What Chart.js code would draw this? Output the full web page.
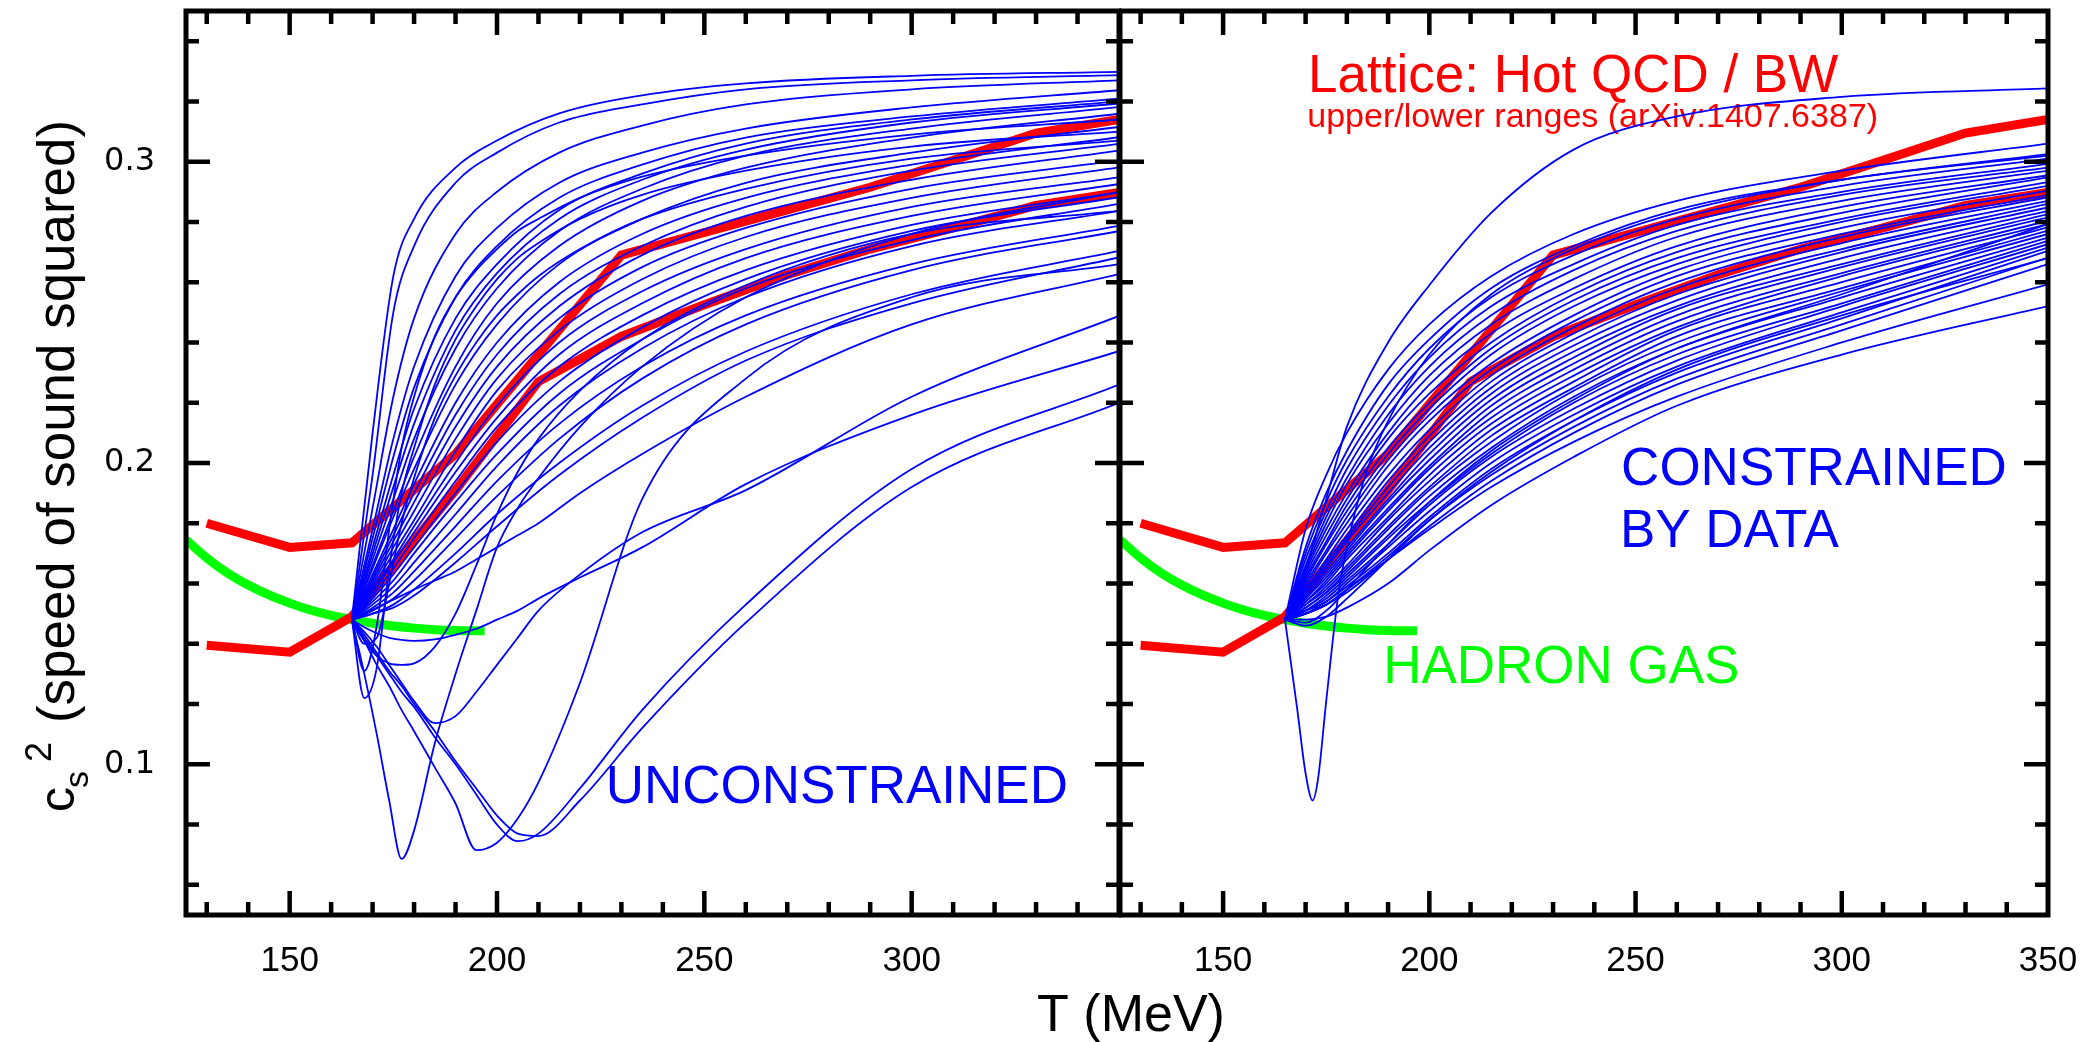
<!DOCTYPE html>
<html>
<head>
<meta charset="utf-8">
<script src="https://cdn.jsdelivr.net/npm/chart.js@4.4.0/dist/chart.umd.min.js"></script>
<style>
  html, body { margin: 0; padding: 0; background: #fff; }
  #wrap { position: relative; width: 2093px; height: 1042px; overflow: hidden; }
  canvas { position: absolute; top: 0; }
  #leftPanel { left: 0; }
  #rightPanel { left: 1119px; }
</style>
</head>
<body>
<div id="wrap">
  <canvas id="leftPanel" width="2093" height="1042"></canvas>
  <canvas id="rightPanel" width="974" height="1042"></canvas>
</div>
<script>
// temperature grids (MeV)
var riseT = [165, 170, 175, 180, 190, 200, 215, 235, 260, 300, 350];
var dipT = [165, 168, 171, 174, 177, 180, 185, 190, 195, 200, 205, 210, 220, 235, 260, 300, 350];
var spikeT = [165, 168, 170, 171.7, 173, 175, 178, 181, 185, 190, 200, 215, 235, 260, 300, 350];
var latticeT = [130, 150, 165, 190, 210, 230, 250, 270, 290, 310, 330, 350];
var hadronT = [125, 130, 135, 140, 145, 150, 155, 160, 165, 170, 175, 180, 185, 190, 197];

// lattice band (Hot QCD / BW) and hadron gas
var latticeUpper = [0.180, 0.172, 0.1735, 0.203, 0.236, 0.269, 0.2765, 0.284, 0.2915, 0.3005, 0.3095, 0.314];
var latticeLower = [0.1395, 0.1372, 0.149, 0.191, 0.227, 0.242, 0.2525, 0.2625, 0.271, 0.278, 0.2855, 0.2898];
var hadronGas = [0.1745, 0.1685, 0.1635, 0.1595, 0.1562, 0.1535, 0.1512, 0.1494, 0.148, 0.1468, 0.1459, 0.1452, 0.1447, 0.1444, 0.1443];

// left panel: unconstrained parameter sets
var unconstrainedRise = [
  [0.148, 0.210, 0.262, 0.281, 0.298, 0.307, 0.316, 0.322, 0.326, 0.3285, 0.3298],
  [0.148, 0.196, 0.250, 0.272, 0.293, 0.303, 0.313, 0.319, 0.324, 0.327, 0.3287],
  [0.148, 0.185, 0.222, 0.248, 0.276, 0.290, 0.303, 0.312, 0.319, 0.324, 0.327],
  [0.148, 0.178, 0.208, 0.232, 0.262, 0.278, 0.293, 0.303, 0.311, 0.318, 0.3237],
  [0.148, 0.175, 0.202, 0.225, 0.255, 0.272, 0.288, 0.299, 0.308, 0.315, 0.3209],
  [0.148, 0.172, 0.196, 0.218, 0.248, 0.266, 0.284, 0.296, 0.306, 0.314, 0.3200],
  [0.148, 0.170, 0.192, 0.213, 0.244, 0.263, 0.281, 0.294, 0.304, 0.313, 0.3193],
  [0.148, 0.168, 0.188, 0.208, 0.238, 0.258, 0.277, 0.291, 0.302, 0.311, 0.3181],
  [0.148, 0.166, 0.184, 0.202, 0.232, 0.253, 0.272, 0.287, 0.298, 0.308, 0.3159],
  [0.148, 0.165, 0.182, 0.198, 0.226, 0.246, 0.266, 0.281, 0.293, 0.303, 0.3115],
  [0.148, 0.163, 0.178, 0.193, 0.220, 0.240, 0.260, 0.276, 0.288, 0.299, 0.3081],
  [0.148, 0.162, 0.176, 0.190, 0.216, 0.236, 0.256, 0.272, 0.285, 0.297, 0.3059],
  [0.148, 0.161, 0.174, 0.187, 0.212, 0.232, 0.252, 0.269, 0.282, 0.294, 0.3037],
  [0.148, 0.160, 0.172, 0.184, 0.208, 0.228, 0.248, 0.265, 0.278, 0.291, 0.3004],
  [0.148, 0.159, 0.170, 0.181, 0.204, 0.224, 0.244, 0.261, 0.275, 0.288, 0.2981],
  [0.148, 0.158, 0.168, 0.179, 0.200, 0.219, 0.240, 0.257, 0.271, 0.285, 0.2948],
  [0.148, 0.157, 0.167, 0.177, 0.197, 0.215, 0.236, 0.253, 0.268, 0.282, 0.2926],
  [0.148, 0.156, 0.165, 0.175, 0.194, 0.212, 0.232, 0.249, 0.264, 0.279, 0.2898],
  [0.148, 0.155, 0.163, 0.172, 0.190, 0.207, 0.227, 0.245, 0.261, 0.277, 0.2882],
  [0.148, 0.154, 0.161, 0.170, 0.187, 0.203, 0.223, 0.241, 0.258, 0.274, 0.2860],
  [0.148, 0.153, 0.159, 0.167, 0.183, 0.199, 0.219, 0.238, 0.255, 0.272, 0.2837],
  [0.148, 0.152, 0.157, 0.164, 0.179, 0.194, 0.213, 0.232, 0.249, 0.266, 0.2787],
  [0.148, 0.151, 0.155, 0.161, 0.175, 0.189, 0.208, 0.228, 0.246, 0.264, 0.2770],
  [0.148, 0.150, 0.153, 0.158, 0.170, 0.183, 0.200, 0.219, 0.237, 0.256, 0.2704],
  [0.148, 0.150, 0.152, 0.156, 0.167, 0.179, 0.196, 0.215, 0.234, 0.253, 0.2682]
];
var unconstrainedDip = [
  [0.148, 0.130, 0.110, 0.088, 0.0686, 0.078, 0.107, 0.130, 0.151, 0.172, 0.185, 0.195, 0.212, 0.232, 0.255, 0.276, 0.290],
  [0.148, 0.141, 0.133, 0.126, 0.118, 0.111, 0.099, 0.087, 0.0715, 0.074, 0.082, 0.094, 0.127, 0.188, 0.228, 0.255, 0.266],
  [0.148, 0.142, 0.136, 0.130, 0.124, 0.119, 0.109, 0.100, 0.090, 0.080, 0.0745, 0.077, 0.092, 0.118, 0.153, 0.198, 0.226],
  [0.148, 0.143, 0.137, 0.131, 0.126, 0.120, 0.111, 0.101, 0.092, 0.083, 0.077, 0.0762, 0.088, 0.112, 0.147, 0.192, 0.220],
  [0.148, 0.144, 0.139, 0.133, 0.127, 0.121, 0.1137, 0.116, 0.124, 0.133, 0.142, 0.151, 0.163, 0.177, 0.191, 0.222, 0.2488],
  [0.148, 0.1455, 0.1435, 0.142, 0.1413, 0.141, 0.1415, 0.143, 0.145, 0.148, 0.151, 0.155, 0.162, 0.172, 0.193, 0.216, 0.2371],
  [0.148, 0.141, 0.136, 0.1335, 0.133, 0.1335, 0.139, 0.150, 0.166, 0.183, 0.197, 0.208, 0.224, 0.241, 0.259, 0.276, 0.2837],
  [0.148, 0.150, 0.152, 0.154, 0.156, 0.158, 0.161, 0.164, 0.168, 0.172, 0.176, 0.180, 0.190, 0.203, 0.222, 0.246, 0.2627],
  [0.148, 0.122, 0.132, 0.165, 0.190, 0.205, 0.226, 0.241, 0.252, 0.261, 0.268, 0.273, 0.281, 0.289, 0.297, 0.305, 0.310],
  [0.148, 0.131, 0.146, 0.178, 0.205, 0.222, 0.242, 0.255, 0.264, 0.271, 0.277, 0.281, 0.288, 0.295, 0.302, 0.309, 0.314],
  [0.148, 0.140, 0.142, 0.160, 0.180, 0.195, 0.215, 0.229, 0.240, 0.249, 0.256, 0.262, 0.271, 0.281, 0.291, 0.301, 0.307]
];

// right panel: constrained by data
var constrainedRise = [
  [0.148, 0.165, 0.188, 0.212, 0.240, 0.259, 0.283, 0.304, 0.315, 0.3215, 0.3243],
  [0.148, 0.178, 0.196, 0.210, 0.231, 0.246, 0.262, 0.276, 0.287, 0.297, 0.306],
  [0.148, 0.172, 0.190, 0.204, 0.226, 0.241, 0.258, 0.272, 0.284, 0.294, 0.3025],
  [0.148, 0.170, 0.187, 0.201, 0.222, 0.238, 0.255, 0.269, 0.281, 0.292, 0.301],
  [0.148, 0.168, 0.184, 0.198, 0.219, 0.235, 0.252, 0.266, 0.279, 0.290, 0.2993],
  [0.148, 0.166, 0.182, 0.195, 0.216, 0.232, 0.249, 0.264, 0.277, 0.289, 0.298],
  [0.148, 0.165, 0.180, 0.193, 0.213, 0.229, 0.246, 0.261, 0.275, 0.287, 0.297],
  [0.148, 0.164, 0.178, 0.190, 0.210, 0.226, 0.243, 0.258, 0.272, 0.285, 0.2955],
  [0.148, 0.163, 0.176, 0.188, 0.208, 0.223, 0.240, 0.256, 0.270, 0.283, 0.2948],
  [0.148, 0.162, 0.174, 0.186, 0.205, 0.220, 0.238, 0.254, 0.268, 0.281, 0.2932],
  [0.148, 0.161, 0.173, 0.184, 0.203, 0.218, 0.236, 0.252, 0.266, 0.280, 0.292],
  [0.148, 0.160, 0.171, 0.182, 0.201, 0.216, 0.233, 0.249, 0.264, 0.278, 0.2904],
  [0.148, 0.159, 0.170, 0.180, 0.199, 0.214, 0.231, 0.247, 0.262, 0.276, 0.289],
  [0.148, 0.158, 0.168, 0.178, 0.196, 0.211, 0.229, 0.245, 0.260, 0.275, 0.2882],
  [0.148, 0.157, 0.167, 0.176, 0.194, 0.209, 0.227, 0.243, 0.258, 0.273, 0.287],
  [0.148, 0.157, 0.166, 0.175, 0.192, 0.207, 0.225, 0.241, 0.256, 0.271, 0.286],
  [0.148, 0.156, 0.165, 0.174, 0.190, 0.205, 0.223, 0.239, 0.254, 0.270, 0.2848],
  [0.148, 0.156, 0.164, 0.172, 0.188, 0.203, 0.221, 0.237, 0.252, 0.268, 0.2837],
  [0.148, 0.155, 0.163, 0.171, 0.187, 0.201, 0.219, 0.235, 0.251, 0.266, 0.2826],
  [0.148, 0.155, 0.162, 0.170, 0.185, 0.199, 0.217, 0.233, 0.249, 0.265, 0.2815],
  [0.148, 0.154, 0.161, 0.169, 0.184, 0.198, 0.215, 0.231, 0.247, 0.263, 0.2804],
  [0.148, 0.154, 0.160, 0.168, 0.182, 0.196, 0.213, 0.229, 0.245, 0.262, 0.2793],
  [0.148, 0.153, 0.159, 0.166, 0.181, 0.194, 0.211, 0.227, 0.244, 0.260, 0.2782],
  [0.148, 0.153, 0.158, 0.165, 0.179, 0.192, 0.209, 0.225, 0.242, 0.258, 0.2771],
  [0.148, 0.152, 0.157, 0.164, 0.178, 0.191, 0.207, 0.224, 0.240, 0.257, 0.276],
  [0.148, 0.152, 0.157, 0.163, 0.176, 0.189, 0.205, 0.222, 0.238, 0.255, 0.2748],
  [0.148, 0.151, 0.156, 0.162, 0.175, 0.187, 0.203, 0.220, 0.236, 0.253, 0.2737],
  [0.148, 0.151, 0.155, 0.161, 0.173, 0.186, 0.202, 0.218, 0.234, 0.252, 0.2726],
  [0.148, 0.151, 0.154, 0.160, 0.172, 0.184, 0.200, 0.216, 0.232, 0.250, 0.2715],
  [0.148, 0.150, 0.154, 0.159, 0.170, 0.182, 0.198, 0.214, 0.230, 0.248, 0.2704],
  [0.148, 0.150, 0.153, 0.158, 0.169, 0.181, 0.196, 0.212, 0.228, 0.246, 0.2682],
  [0.148, 0.150, 0.153, 0.157, 0.168, 0.179, 0.194, 0.210, 0.226, 0.244, 0.266],
  [0.148, 0.150, 0.153, 0.158, 0.168, 0.178, 0.192, 0.207, 0.222, 0.240, 0.2593],
  [0.148, 0.148, 0.149, 0.152, 0.160, 0.171, 0.186, 0.202, 0.219, 0.236, 0.2521],
  [0.148, 0.146, 0.149, 0.155, 0.168, 0.181, 0.197, 0.214, 0.231, 0.249, 0.268],
  [0.148, 0.147, 0.151, 0.158, 0.173, 0.187, 0.204, 0.221, 0.238, 0.256, 0.2793]
];
var constrainedSpike = [0.148, 0.118, 0.097, 0.088, 0.095, 0.121, 0.157, 0.178, 0.198, 0.214, 0.236, 0.256, 0.271, 0.283, 0.294, 0.302];

// axes
var xMajorTicks = [150, 200, 250, 300, 350];
var xLabelsLeft = [150, 200, 250, 300];
var xLabelsRight = [150, 200, 250, 300, 350];
var yLabels = [0.1, 0.2, 0.3];

var BLUE = '#0000ff', RED = '#ff0000', GREEN = '#00ff00';
var FONT = '"Liberation Sans", Arial, Helvetica, sans-serif';
Chart.defaults.font.family = FONT;

function pts(xs, ys) {
  return ys.map(function (y, i) { return {x: xs[i], y: y}; });
}

function blueLines(xs, rows) {
  return rows.map(function (r) {
    return {data: pts(xs, r), borderColor: BLUE, borderWidth: 1.8, pointRadius: 0,
            cubicInterpolationMode: 'monotone', order: 0};
  });
}

function bandLines() {
  return [
    {data: pts(latticeT, latticeUpper), borderColor: RED, borderWidth: 9, pointRadius: 0, tension: 0, order: 1},
    {data: pts(latticeT, latticeLower), borderColor: RED, borderWidth: 9, pointRadius: 0, tension: 0, order: 1},
    {data: pts(hadronT, hadronGas), borderColor: GREEN, borderWidth: 9, pointRadius: 0,
     cubicInterpolationMode: 'monotone', order: 2}
  ];
}

// box with inward ticks on all four sides
var framePlugin = {
  id: 'frame',
  afterDatasetsDraw: function (chart) {
    var ctx = chart.ctx, a = chart.chartArea;
    var xs = chart.scales.x, ys = chart.scales.y;
    ctx.save();
    ctx.strokeStyle = '#000';
    ctx.lineWidth = 4.5;
    ctx.beginPath();
    for (var t = 130; t < 350; t += 10) {
      var px = xs.getPixelForValue(t);
      var len = xMajorTicks.indexOf(t) >= 0 ? 24 : 13;
      ctx.moveTo(px, a.bottom); ctx.lineTo(px, a.bottom - len);
      ctx.moveTo(px, a.top); ctx.lineTo(px, a.top + len);
    }
    for (var k = 3; k <= 17; k++) {
      var py = ys.getPixelForValue(k * 0.02);
      var l2 = k % 5 === 0 ? 24 : 13;
      ctx.moveTo(a.left, py); ctx.lineTo(a.left + l2, py);
      ctx.moveTo(a.right, py); ctx.lineTo(a.right - l2, py);
    }
    ctx.stroke();
    ctx.lineWidth = 5;
    ctx.strokeRect(a.left, a.top, a.right - a.left, a.bottom - a.top);
    ctx.restore();
  }
};

function notesPlugin(items) {
  return {
    id: 'notes',
    beforeDatasetsDraw: function (chart) {
      var ctx = chart.ctx, xs = chart.scales.x, ys = chart.scales.y;
      items.forEach(function (n) {
        ctx.save();
        ctx.font = n.size + 'px ' + FONT;
        ctx.fillStyle = n.color;
        ctx.textBaseline = 'alphabetic';
        ctx.fillText(n.text, xs.getPixelForValue(n.t), ys.getPixelForValue(n.v));
        ctx.restore();
      });
    }
  };
}

var titlesPlugin = {
  id: 'titles',
  afterDraw: function (chart) {
    var ctx = chart.ctx;
    ctx.save();
    ctx.fillStyle = '#000';
    ctx.textBaseline = 'alphabetic';
    ctx.font = '52px ' + FONT;
    ctx.textAlign = 'center';
    ctx.fillText('T (MeV)', 1131, 1031);
    ctx.textAlign = 'left';
    ctx.translate(74, 812);
    ctx.rotate(-Math.PI / 2);
    ctx.font = '50px ' + FONT;
    ctx.fillText('c', 0, 0);
    ctx.font = '34px ' + FONT;
    ctx.fillText('s', 24, 14);
    ctx.font = '36px ' + FONT;
    ctx.fillText('2', 50, -23);
    ctx.font = '51px ' + FONT;
    var label = '(speed of sound squared)';
    var k = 603 / ctx.measureText(label).width;
    ctx.translate(89, 0);
    ctx.scale(k, 1);
    ctx.fillText(label, 0, 0);
    ctx.restore();
  }
};

function xScale(labels) {
  return {
    type: 'linear', min: 125, max: 350,
    afterBuildTicks: function (s) { s.ticks = labels.map(function (v) { return {value: v}; }); },
    afterFit: function (s) { s.height = 127; s.paddingLeft = 0; s.paddingRight = 0; },
    grid: {display: false, drawTicks: false},
    border: {display: false},
    ticks: {color: '#000', font: {size: 35}, padding: 25, maxRotation: 0, autoSkip: false,
            callback: function (v) { return String(v); }}
  };
}

new Chart(document.getElementById('leftPanel').getContext('2d'), {
  type: 'line',
  data: {datasets: blueLines(riseT, unconstrainedRise)
    .concat(blueLines(dipT, unconstrainedDip))
    .concat(bandLines())},
  options: {
    responsive: false, animation: false, devicePixelRatio: 1,
    layout: {padding: {left: 0, top: 11, right: 974, bottom: 0}},
    plugins: {legend: {display: false}, tooltip: {enabled: false}},
    scales: {
      x: xScale(xLabelsLeft),
      y: {
        type: 'linear', min: 0.05, max: 0.35,
        afterBuildTicks: function (s) { s.ticks = yLabels.map(function (v) { return {value: v}; }); },
        afterFit: function (s) { s.width = 186; s.paddingTop = 0; s.paddingBottom = 0; },
        grid: {display: false, drawTicks: false},
        border: {display: false},
        ticks: {color: '#000', font: {family: '"DejaVu Sans", sans-serif', size: 32}, padding: 31,
                callback: function (v) { return v.toFixed(1); }}
      }
    }
  },
  plugins: [framePlugin, titlesPlugin, notesPlugin([
    {text: 'UNCONSTRAINED', t: 226.2, v: 0.0871, size: 53, color: BLUE}
  ])]
});

new Chart(document.getElementById('rightPanel').getContext('2d'), {
  type: 'line',
  data: {datasets: blueLines(riseT, constrainedRise)
    .concat(blueLines(spikeT, [constrainedSpike]))
    .concat(bandLines())},
  options: {
    responsive: false, animation: false, devicePixelRatio: 1,
    layout: {padding: {left: 1, top: 11, right: 45, bottom: 0}},
    plugins: {legend: {display: false}, tooltip: {enabled: false}},
    scales: {
      x: xScale(xLabelsRight),
      y: {type: 'linear', min: 0.05, max: 0.35, display: false}
    }
  },
  plugins: [framePlugin, notesPlugin([
    {text: 'Lattice: Hot QCD / BW', t: 170.6, v: 0.3231, size: 53, color: RED},
    {text: 'upper/lower ranges (arXiv:1407.6387)', t: 170.4, v: 0.3115, size: 34, color: RED},
    {text: 'CONSTRAINED', t: 246.5, v: 0.1927, size: 53, color: BLUE},
    {text: 'BY DATA', t: 246.2, v: 0.1721, size: 53, color: BLUE},
    {text: 'HADRON GAS', t: 188.8, v: 0.127, size: 53, color: GREEN}
  ])]
});
</script>
</body>
</html>
